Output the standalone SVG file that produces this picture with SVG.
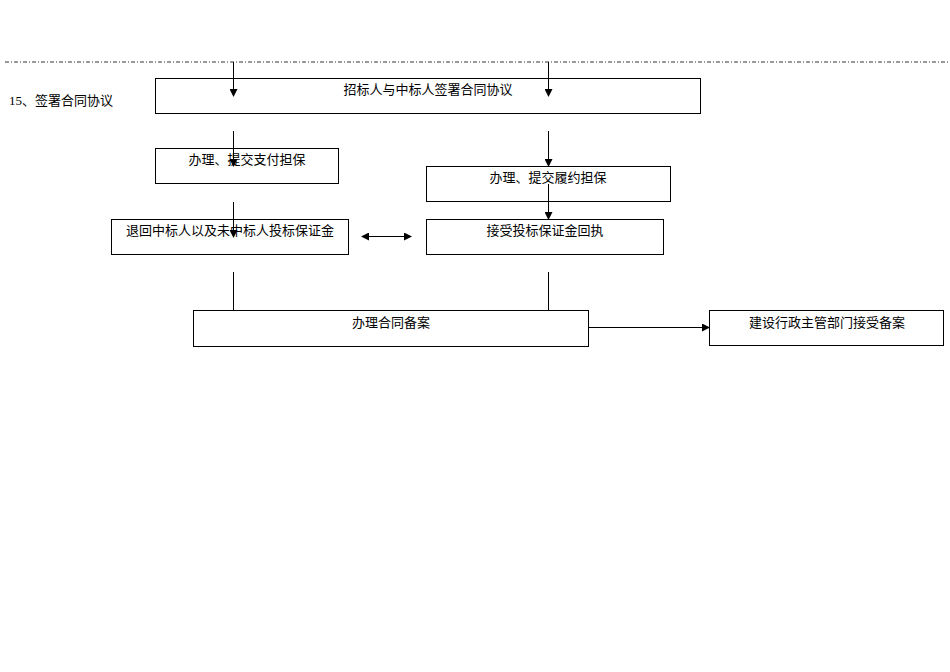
<svg xmlns="http://www.w3.org/2000/svg" width="950" height="672" viewBox="0 0 950 672">
<style>
rect{fill:#fff;stroke:#000;stroke-width:1}
text{font-family:"Liberation Serif","Noto Sans CJK SC",serif;font-size:13px;fill:#000;text-anchor:middle}
.c line{stroke:#000;stroke-width:1}
</style>
<defs><marker id="a" markerWidth="8" markerHeight="8" refX="7" refY="4" orient="auto-start-reverse" markerUnits="userSpaceOnUse"><path d="M0,0L8,4L0,8z"/></marker></defs>
<rect width="950" height="672" style="stroke:none"/>
<line x1="5" y1="62" x2="950" y2="62" stroke="#000" stroke-width="0.8" stroke-dasharray="4,2,1,2"/>
<text x="9" y="105" style="text-anchor:start">15、签署合同协议</text>
<g id="n1"><rect x="155.5" y="78.5" width="545" height="35"/><text x="428" y="94">招标人与中标人签署合同协议</text></g>
<g id="n2"><rect x="155.5" y="148.5" width="183" height="35"/><text x="247" y="164">办理、提交支付担保</text></g>
<g id="n3"><rect x="426.5" y="166.5" width="244" height="35"/><text x="548" y="182">办理、提交履约担保</text></g>
<g id="n4"><rect x="111.5" y="219.5" width="237" height="35"/><text x="230" y="235">退回中标人以及未中标人投标保证金</text></g>
<g id="n5"><rect x="426.5" y="219.5" width="237" height="35"/><text x="545" y="235">接受投标保证金回执</text></g>
<g id="n6"><rect x="193.5" y="310.5" width="395" height="36"/><text x="391" y="327">办理合同备案</text></g>
<g id="n7"><rect x="709.5" y="310.5" width="234" height="35"/><text x="827" y="327">建设行政主管部门接受备案</text></g>
<g class="c">
<line x1="233.5" y1="62" x2="233.5" y2="96" marker-end="url(#a)"/>
<line x1="548.5" y1="62" x2="548.5" y2="96" marker-end="url(#a)"/>
<line x1="233.5" y1="131" x2="233.5" y2="166" marker-end="url(#a)"/>
<line x1="548.5" y1="131" x2="548.5" y2="166" marker-end="url(#a)"/>
<line x1="233.5" y1="202" x2="233.5" y2="237" marker-end="url(#a)"/>
<line x1="548.5" y1="184" x2="548.5" y2="219" marker-end="url(#a)"/>
<line x1="233.5" y1="272" x2="233.5" y2="310"/>
<line x1="548.5" y1="272" x2="548.5" y2="310"/>
<line x1="362" y1="236.5" x2="411" y2="236.5" marker-start="url(#a)" marker-end="url(#a)"/>
<line x1="588" y1="327.5" x2="709" y2="327.5" marker-end="url(#a)"/>
</g>
</svg>
